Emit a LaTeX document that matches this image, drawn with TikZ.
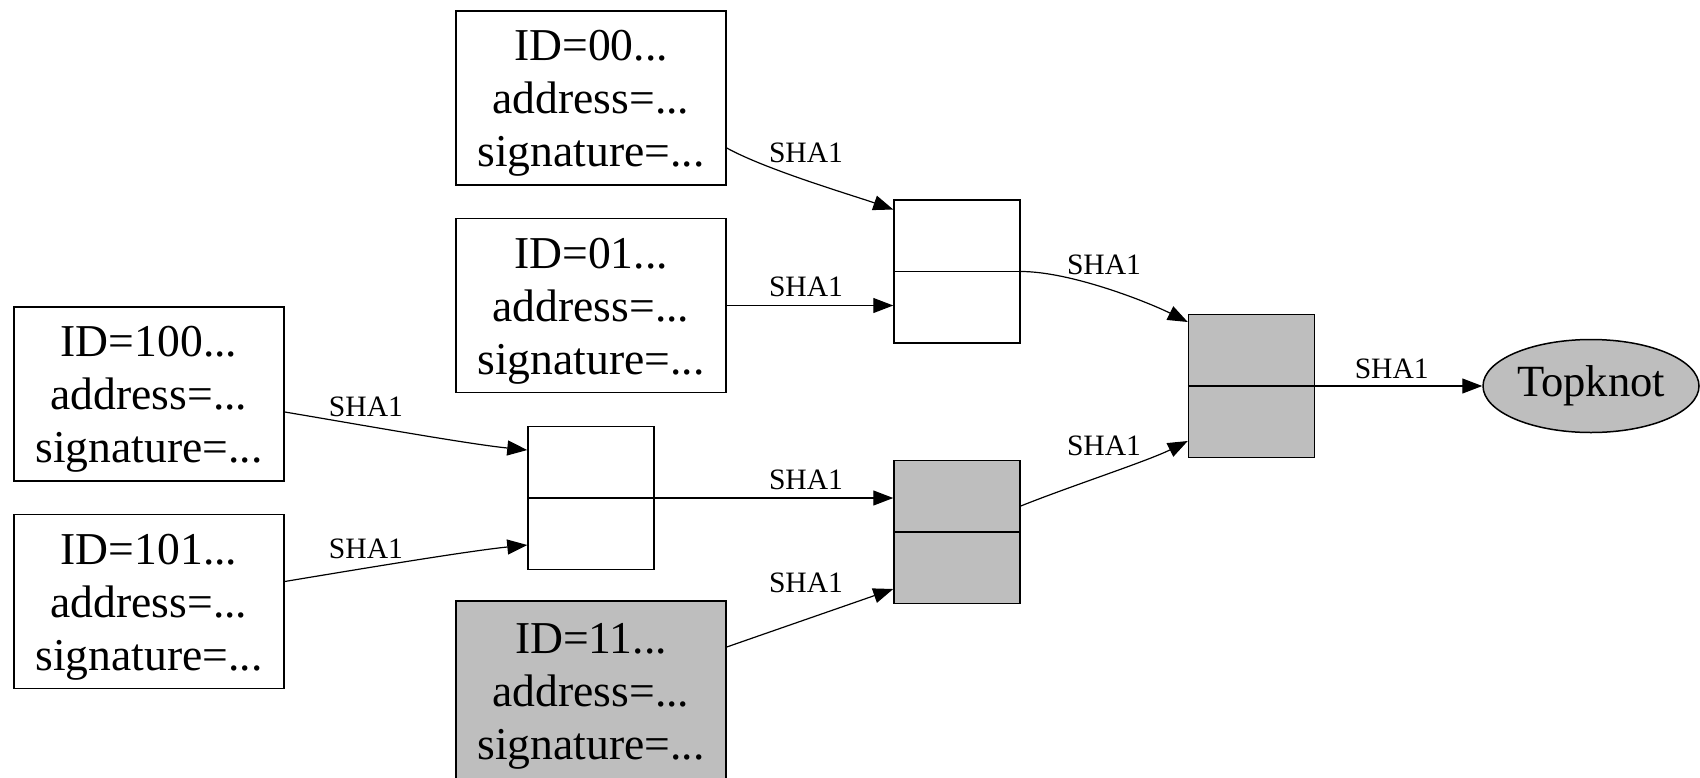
\documentclass[tikz,border=0pt]{standalone}
\usepackage{fontspec}
\setmainfont{Liberation Serif}
\usetikzlibrary{arrows.meta,shapes.geometric}
\definecolor{gv}{RGB}{190,190,190}
\newcommand\gvpad{\rule{0pt}{20.5pt}}
\begin{document}
\begin{tikzpicture}[x=0.5pt,y=-0.5pt,
  rec/.style={draw, line width=0.75pt, rectangle, minimum width=135pt, minimum height=87pt, inner sep=0pt, align=center, font=\fontsize{22.8pt}{26.5pt}\selectfont},
  hbox/.style={draw, line width=0.75pt, rectangle, minimum width=63pt, minimum height=71.5pt, inner sep=0pt},
  conn/.style={line width=0.6pt, -{Triangle[length=10pt,width=7.5pt]}},
  lbl/.style={font=\fontsize{14.8pt}{16pt}\selectfont, inner sep=0pt},
  divl/.style={line width=0.75pt},
]
\useasboundingbox (0,0) rectangle (1700,777);
\clip (0,0) rectangle (1700,777);
% record boxes
\node[rec] (n00) at (591,98) {\gvpad ID=00...\\address=...\\signature=...};
\node[rec] (n01) at (591,305.5) {\gvpad ID=01...\\address=...\\signature=...};
\node[rec] (n100) at (149,394) {\gvpad ID=100...\\address=...\\signature=...};
\node[rec] (n101) at (149,601.5) {\gvpad ID=101...\\address=...\\signature=...};
\node[rec, fill=gv, minimum height=90pt] (n11) at (591,691) {\gvpad ID=11...\\address=...\\signature=...};
% hash boxes
\node[hbox] (A) at (957,271.5) {};
\node[hbox] (B) at (591,498) {};
\node[hbox, fill=gv] (C) at (957,532) {};
\node[hbox, fill=gv] (D) at (1251.5,386) {};
\draw[divl] (A.west) -- (A.east);
\draw[divl] (B.west) -- (B.east);
\draw[divl] (C.west) -- (C.east);
\draw[divl] (D.west) -- (D.east);
% topknot
\node[draw, ellipse, fill=gv, line width=0.75pt, minimum width=108pt, minimum height=46.5pt, inner sep=0pt, font=\fontsize{22.3pt}{24pt}\selectfont] (T) at (1591,386) {Topknot};
% connectors
\draw[conn] ([yshift=-25pt]n00.east) .. controls +(40,22) and +(-40,-14) .. ([yshift=31pt]A.west)
  node[lbl, midway, xshift=-2pt, yshift=14.5pt] {SHA1};
\draw[conn] (n01.east) -- (n01.east -| A.west)
  node[lbl, midway, xshift=-2pt, yshift=9.5pt] {SHA1};
\draw[conn] ([yshift=-9pt]n100.east) .. controls +(60,10) and +(-60,-6) .. ([yshift=24pt]B.west)
  node[lbl, midway, xshift=-20pt, yshift=13pt] {SHA1};
\draw[conn] ([yshift=10pt]n101.east) .. controls +(60,-10) and +(-60,6) .. ([yshift=-23.5pt]B.west)
  node[lbl, midway, xshift=-20pt, yshift=6.5pt] {SHA1};
\draw[conn] (B.east) -- (B.east -| C.west)
  node[lbl, midway, xshift=16pt, yshift=9pt] {SHA1};
\draw[conn] ([yshift=22pt]n11.east) .. controls +(40,-14) and +(-40,14) .. ([yshift=-28.5pt]C.west)
  node[lbl, midway, xshift=-2pt, yshift=17.5pt] {SHA1};
\draw[conn] (A.east) .. controls +(50,0) and +(-40,-20) .. ([yshift=32pt]D.west)
  node[lbl, midway, xshift=-2pt, yshift=12pt] {SHA1};
\draw[conn] ([yshift=13pt]C.east) .. controls +(50,-20) and +(-40,20) .. ([yshift=-27.5pt]D.west)
  node[lbl, midway, xshift=-2pt, yshift=14pt] {SHA1};
\draw[conn] (D.east) -- (T.west)
  node[lbl, midway, xshift=-3.5pt, yshift=8.5pt] {SHA1};
\end{tikzpicture}
\end{document}
